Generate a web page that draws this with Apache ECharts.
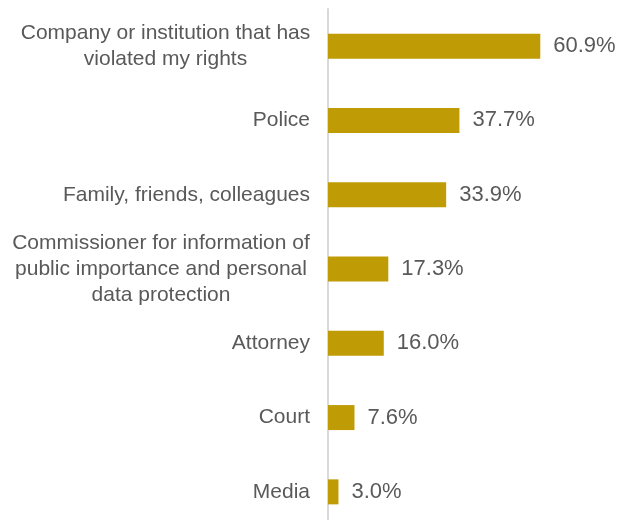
<!DOCTYPE html>
<html>
<head>
<meta charset="utf-8">
<style>
html,body{margin:0;padding:0;background:#fff;overflow:hidden;width:620px;height:520px;}
#chart{width:620px;height:532px;}
</style>
<script src="https://cdn.jsdelivr.net/npm/echarts@6/dist/echarts.min.js"></script>
</head>
<body>
<div id="chart"></div>
<script>
var categories = [
  "Company or institution that has\nviolated my rights",
  "Police",
  "Family, friends, colleagues",
  "Commissioner for information of\npublic importance and personal\ndata protection",
  "Attorney",
  "Court",
  "Media"
];
var values = [60.9, 37.7, 33.9, 17.3, 16.0, 7.6, 3.0];

var FONT = '"Liberation Sans", Arial, sans-serif';
var FS = 21;
var LH = 26;
var ctx = document.createElement('canvas').getContext('2d');
ctx.font = FS + 'px ' + FONT;
function measure(s){ return ctx.measureText(s).width; }

var chart = echarts.init(document.getElementById('chart'), null, {renderer:'canvas'});
chart.setOption({
  animation: false,
  backgroundColor: '#ffffff',
  grid: {left: 328, width: 244, top: 9, height: 520, containLabel: false},
  xAxis: {
    type: 'value', min: 0, max: 70, show: false
  },
  yAxis: {
    type: 'category',
    data: categories,
    inverse: true,
    axisLine: {show: true, lineStyle: {color: '#D9D9D9', width: 2}},
    axisTick: {show: false},
    splitLine: {show: false},
    axisLabel: {
      margin: 18,
      color: '#595959',
      fontSize: FS,
      fontFamily: FONT,
      lineHeight: LH,
      align: 'right',
      formatter: function(v){
        var lines = v.split('\n');
        if (lines.length === 1) return v;
        var w = Math.max.apply(null, lines.map(measure));
        return lines.map(function(l){ return '{c' + Math.round(w) + '|' + l + '}'; }).join('\n');
      },
      rich: (function(){
        var r = {};
        categories.forEach(function(c){
          var lines = c.split('\n');
          if (lines.length > 1) {
            var w = Math.round(Math.max.apply(null, lines.map(measure)));
            r['c' + w] = {width: w, align: 'center', color: '#595959', fontSize: FS, fontFamily: FONT, lineHeight: LH};
          }
        });
        return r;
      })()
    }
  },
  series: [{
    type: 'bar',
    data: values,
    barWidth: 25,
    itemStyle: {color: '#BF9B05'},
    label: {
      show: true,
      position: 'right',
      distance: 13,
      color: '#595959',
      fontSize: 22,
      fontFamily: FONT,
      formatter: function(p){ return p.value.toFixed(1) + '%'; }
    }
  }]
});
</script>
</body>
</html>
